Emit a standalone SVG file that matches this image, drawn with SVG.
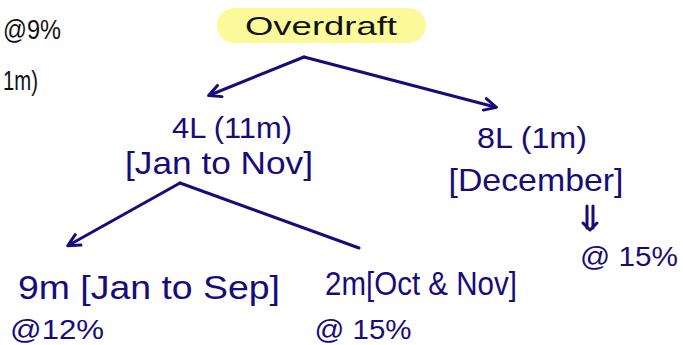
<svg xmlns="http://www.w3.org/2000/svg" width="683" height="345" viewBox="0 0 683 345">
<defs>
<style>
.t{font-family:"Liberation Sans","DejaVu Sans",sans-serif;fill:#170c7a;}
.k{fill:#111;}
.c{stroke:#170c7a;stroke-width:3;fill:none;stroke-linecap:round;stroke-linejoin:round;}
</style>
<marker id="ah" viewBox="0 0 10 10" refX="8" refY="5" markerWidth="5" markerHeight="5" orient="auto-start-reverse">
<path d="M1,1 L9,5 L1,9" fill="none" stroke="#170c7a" stroke-width="2" stroke-linecap="round" stroke-linejoin="round"/>
</marker>
</defs>
<rect width="683" height="345" fill="#fff"/>
<g id="cut-left">
<text class="t k" x="3" y="39" font-size="28" textLength="58" lengthAdjust="spacingAndGlyphs">@9%</text>
<text class="t k" x="3" y="90" font-size="28" textLength="35" lengthAdjust="spacingAndGlyphs">1m)</text>
</g>
<g id="overdraft">
<rect x="217" y="8" width="209" height="35" rx="17.5" fill="#fcf99a"/>
<text class="t k" x="321" y="35" font-size="26" text-anchor="middle" textLength="152" lengthAdjust="spacingAndGlyphs">Overdraft</text>
</g>
<g id="node-4L">
<text class="t" x="232" y="138" font-size="30" text-anchor="middle" textLength="120" lengthAdjust="spacingAndGlyphs">4L (11m)</text>
<text class="t" x="219" y="174" font-size="32" text-anchor="middle" textLength="188" lengthAdjust="spacingAndGlyphs">[Jan to Nov]</text>
</g>
<g id="node-8L">
<text class="t" x="532" y="148" font-size="30" text-anchor="middle" textLength="110" lengthAdjust="spacingAndGlyphs">8L (1m)</text>
<text class="t" x="536" y="191" font-size="32" text-anchor="middle" textLength="175" lengthAdjust="spacingAndGlyphs">[December]</text>
</g>
<g id="node-dec-rate">
<text class="t" x="629" y="266" font-size="28" text-anchor="middle" textLength="98" lengthAdjust="spacingAndGlyphs">@ 15%</text>
</g>
<g id="node-9m">
<text class="t" x="149" y="299" font-size="34" text-anchor="middle" textLength="262" lengthAdjust="spacingAndGlyphs">9m [Jan to Sep]</text>
<text class="t" x="57" y="339" font-size="28" text-anchor="middle" textLength="94" lengthAdjust="spacingAndGlyphs">@12%</text>
</g>
<g id="node-2m">
<text class="t" x="421" y="295" font-size="34" text-anchor="middle" textLength="192" lengthAdjust="spacingAndGlyphs">2m[Oct &amp; Nov]</text>
<text class="t" x="363" y="339" font-size="28" text-anchor="middle" textLength="97" lengthAdjust="spacingAndGlyphs">@ 15%</text>
</g>
<g id="connectors">
<path class="c" d="M304,57 L210,95" marker-end="url(#ah)"/>
<path class="c" d="M304,57 L495,107" marker-end="url(#ah)"/>
<path class="c" d="M180,183 L69,245" marker-end="url(#ah)"/>
<path class="c" d="M180,183 L359,248"/>
<path class="c" d="M587,206 L587,228 M593,206 L593,228"/>
<path class="c" d="M583,223 L590,230 L597,223"/>
</g>
</svg>
